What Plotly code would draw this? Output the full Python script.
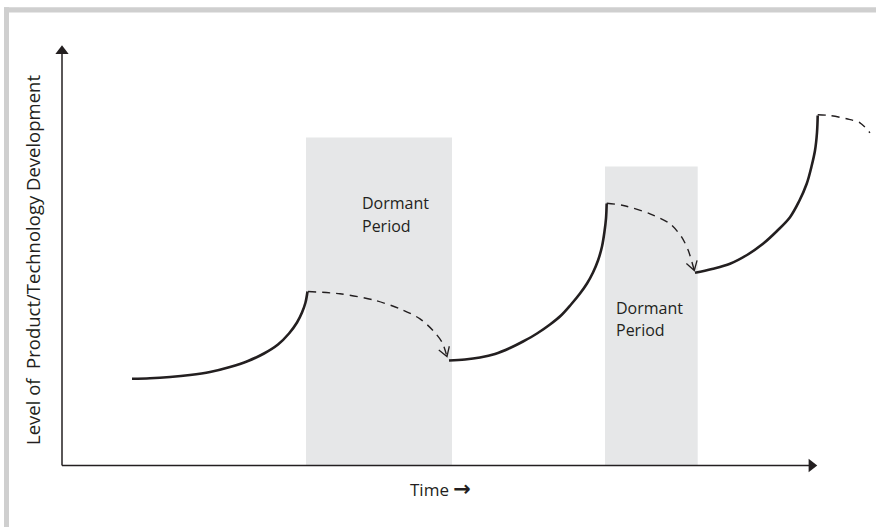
import numpy as np
import plotly.graph_objects as go

# ---------------- data (time units, level units) ----------------
growth1_t = [7.0, 8.8, 10.8, 12.8, 14.8, 16.8, 18.6, 20.2, 21.6, 22.7, 23.5, 24.0, 24.35, 24.55]
growth1_level = [8.67, 8.72, 8.85, 9.05, 9.35, 9.85, 10.45, 11.2, 12.1, 13.2, 14.3, 15.3, 16.3, 17.4]

decay1_t = [24.6, 27.8, 31.1, 33.8, 35.8, 37.1, 38.0, 38.5]
decay1_level = [17.4, 17.17, 16.57, 15.67, 14.67, 13.5, 12.33, 10.9]

growth2_t = [38.7, 40.3, 41.8, 43.3, 44.8, 46.1, 47.5, 48.8, 49.9, 50.9, 51.8, 52.5, 53.1,
             53.6, 54.0, 54.25, 54.4, 54.47]
growth2_level = [10.5, 10.6, 10.8, 11.15, 11.75, 12.4, 13.2, 14.1, 15.0, 16.1, 17.2, 18.2, 19.3,
                 20.5, 21.9, 23.4, 24.7, 26.2]

decay2_t = [54.47, 56.13, 58.8, 60.8, 61.97, 62.63, 63.23]
decay2_level = [26.23, 26.0, 25.17, 24.17, 22.83, 21.5, 19.5]

growth3_t = [63.3, 65.0, 66.8, 68.5, 70.1, 71.5, 72.8, 73.7, 74.47, 74.95, 75.3, 75.5, 75.57]
growth3_level = [19.27, 19.65, 20.17, 21.05, 22.17, 23.45, 24.83, 26.4, 28.17, 29.9, 31.5, 33.3, 35.0]

decay3_t = [75.57, 76.8, 78.47, 79.8, 80.8]
decay3_level = [35.07, 35.0, 34.67, 34.27, 33.27]

dormant_start = [24.4, 54.3]
dormant_end = [39.0, 63.57]
dormant_top = [32.8, 29.9]
dormant_label = ["Dormant", "Period"]
dormant_label_t = [29.8, 55.2]
dormant_label_level = [[26.25, 23.95], [15.75, 13.55]]

x_axis_end = 75.5
y_axis_end = 42.0
x_title = "Time <span style='font-family:DejaVu Sans;font-size:21px'><b>\u2192</b></span>"
y_title = "Level of\u00a0 Product/Technology Development"

INK = "#231f20"
FONT = "Open Sans"

fig = go.Figure()

# dormant periods
for s, e, top in zip(dormant_start, dormant_end, dormant_top):
    fig.add_shape(type="rect", xref="x", yref="y", x0=s, x1=e, y0=0, y1=top,
                  fillcolor="#e6e7e8", line_width=0, layer="below")

# axes
fig.add_trace(go.Scatter(x=[0, 0], y=[0, y_axis_end - 0.6], mode="lines",
                         line=dict(color=INK, width=1.5), hoverinfo="skip"))
fig.add_trace(go.Scatter(x=[0, x_axis_end - 0.6], y=[0, 0], mode="lines",
                         line=dict(color=INK, width=1.5), hoverinfo="skip"))
fig.add_trace(go.Scatter(x=[0], y=[y_axis_end - 0.55], mode="markers",
                         marker=dict(symbol="triangle-up", size=11.5, color=INK),
                         hoverinfo="skip"))
fig.add_trace(go.Scatter(x=[x_axis_end - 0.55], y=[0], mode="markers",
                         marker=dict(symbol="triangle-right", size=11.5, color=INK),
                         hoverinfo="skip"))

# growth curves
for t, lv in [(growth1_t, growth1_level), (growth2_t, growth2_level), (growth3_t, growth3_level)]:
    fig.add_trace(go.Scatter(x=t, y=lv, mode="lines",
                             line=dict(color=INK, width=2.6, shape="spline", smoothing=1.0),
                             hoverinfo="skip"))

# decay (dormant) curves
for t, lv in [(decay1_t, decay1_level), (decay2_t, decay2_level), (decay3_t, decay3_level)]:
    fig.add_trace(go.Scatter(x=t, y=lv, mode="lines",
                             line=dict(color=INK, width=1.4, shape="spline", smoothing=0.8,
                                       dash="8px,6px"),
                             hoverinfo="skip"))


def chevron(t, lv, length=1.05, half_angle=32):
    tip = np.array([t[-1], lv[-1]])
    d = tip - np.array([t[-2], lv[-2]])
    d = d / np.linalg.norm(d)
    pts = []
    for sgn in (1, -1):
        a = np.radians(sgn * half_angle)
        r = np.array([d[0] * np.cos(a) - d[1] * np.sin(a), d[0] * np.sin(a) + d[1] * np.cos(a)])
        pts.append(tip - length * r)
    return [pts[0][0], tip[0], pts[1][0]], [pts[0][1], tip[1], pts[1][1]]


for t, lv in [(decay1_t, decay1_level), (decay2_t, decay2_level)]:
    cx, cy = chevron(t, lv)
    fig.add_trace(go.Scatter(x=cx, y=cy, mode="lines",
                             line=dict(color=INK, width=1.3), hoverinfo="skip"))

# labels
for lt, levels in zip(dormant_label_t, dormant_label_level):
    for word, lv in zip(dormant_label, levels):
        fig.add_annotation(x=lt, y=lv, xref="x", yref="y", text=word, showarrow=False,
                           xanchor="left", yanchor="middle",
                           font=dict(family=FONT, size=16, color=INK))

fig.add_annotation(x=37.8, y=-2.35, xref="x", yref="y", text=x_title, showarrow=False,
                   xanchor="center", yanchor="middle",
                   font=dict(family=FONT, size=17, color=INK))
fig.add_annotation(x=-2.95, y=20.5, xref="x", yref="y", text=y_title, showarrow=False,
                   textangle=-90, xanchor="center", yanchor="middle",
                   font=dict(family=FONT, size=18.5, color=INK))

# outer frame (top and left light-grey bars)
fig.add_shape(type="rect", xref="paper", yref="paper", x0=4 / 876, x1=9 / 876,
              y0=0, y1=1 - 7.3 / 527, fillcolor="#cfcfcf", line_width=0)
fig.add_shape(type="rect", xref="paper", yref="paper", x0=4 / 876, x1=1,
              y0=1 - 12.5 / 527, y1=1 - 7.3 / 527, fillcolor="#cfcfcf", line_width=0)

fig.update_layout(
    width=876, height=527,
    margin=dict(l=0, r=0, t=0, b=0),
    paper_bgcolor="white", plot_bgcolor="white",
    showlegend=False,
    xaxis=dict(range=[-6.2, 81.4], visible=False, fixedrange=True),
    yaxis=dict(range=[-6.15, 46.55], visible=False, fixedrange=True),
)

fig.write_html("out.html", config={"displayModeBar": False},
               post_script="document.body.style.margin='0px';")
